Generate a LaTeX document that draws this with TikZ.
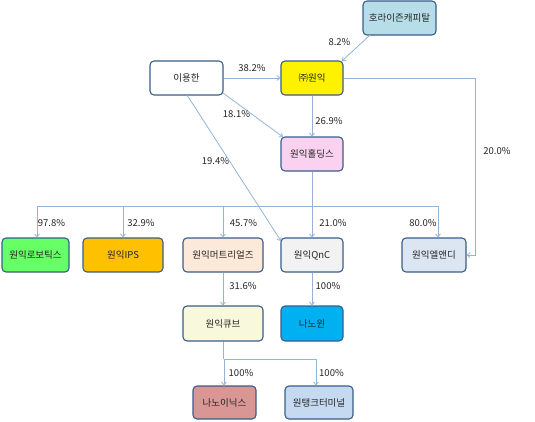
\documentclass[tikz,border=0pt]{standalone}
\usepackage{fontspec}
\setmainfont{Noto Sans CJK KR}
\usetikzlibrary{arrows.meta}
\definecolor{bord}{HTML}{385D8A}
\definecolor{conn}{HTML}{95B3D7}
\definecolor{cHor}{RGB}{183,222,232}
\definecolor{cHold}{RGB}{250,210,240}
\definecolor{cRobo}{RGB}{102,255,102}
\definecolor{cIps}{RGB}{255,192,0}
\definecolor{cMat}{RGB}{253,233,217}
\definecolor{cQnc}{RGB}{242,242,242}
\definecolor{cLnd}{RGB}{220,230,242}
\definecolor{cCube}{RGB}{248,248,220}
\definecolor{cNwin}{RGB}{0,176,240}
\definecolor{cNanoin}{RGB}{218,150,148}
\definecolor{cTank}{RGB}{197,217,241}
\begin{document}
\begin{tikzpicture}[x=1pt,y=-1pt,
  box/.style={draw=bord,line width=1.1pt,rounded corners=4pt,inner sep=0pt,
    minimum height=34pt,font=\fontsize{9.5}{11}\selectfont,text=black!85},
  lnk/.style={draw=conn,line width=0.8pt,-{Straight Barb[length=3pt,width=5pt]}},
  bus/.style={draw=conn,line width=0.8pt},
  pct/.style={font=\fontsize{9.5}{11}\selectfont,inner sep=0pt,text=black!85}]
\useasboundingbox (0,0) rectangle (535,421);
% boxes
\node[box,fill=cHor,minimum width=73pt] (hor) at (399.5,18) {호라이즌캐피탈};
\node[box,fill=yellow,minimum width=62pt] (wonik) at (312,78) {㈜원익};
\node[box,fill=white,minimum width=73pt] (lee) at (186.5,78) {이용한};
\node[box,fill=cHold,minimum width=62pt] (hold) at (312,154) {원익홀딩스};
\node[box,fill=cRobo,minimum width=67pt] (robo) at (35.5,255) {원익로보틱스};
\node[box,fill=cIps,minimum width=80pt] (ips) at (123,255) {원익IPS};
\node[box,fill=cMat,minimum width=80pt] (mat) at (223,255) {원익머트리얼즈};
\node[box,fill=cQnc,minimum width=62pt] (qnc) at (312,255) {원익QnC};
\node[box,fill=cLnd,minimum width=64pt] (lnd) at (434,255) {원익엘앤디};
\node[box,fill=cCube,minimum width=80pt,minimum height=35pt] (cube) at (223,323.5) {원익큐브};
\node[box,fill=cNwin,minimum width=62pt,minimum height=35pt] (nwin) at (312,323.5) {나노윈};
\node[box,fill=cNanoin,minimum width=63pt,minimum height=33pt] (nanoin) at (224.5,402.5) {나노이닉스};
\node[box,fill=cTank,minimum width=68pt,minimum height=33pt] (tank) at (319,402.5) {원탱크터미널};
% coordinates for connectors
\coordinate (horA) at (370,35);
\coordinate (wonikA) at (342,61);
\coordinate (leeB1) at (223,93);
\coordinate (holdTL) at (283,137);
\coordinate (leeB2) at (187,95);
\coordinate (qncL) at (281,241);
\coordinate (c1) at (475,78);
\coordinate (c2) at (475,255);
\coordinate (busL) at (37,206);
\coordinate (busR) at (438,206);
\coordinate (bus2) at (224,359);
\coordinate (bus3) at (316,359);
% connectors
\draw[lnk] (horA) -- (wonikA);
\draw[lnk] (lee.east) -- (wonik.west);
\draw[lnk] (wonik.south) -- (hold.north);
\draw[lnk] (leeB1) -- (holdTL);
\draw[lnk] (leeB2) -- (qncL);
\draw[lnk] (wonik.east) -- (c1) -- (c2) -- (lnd.east);
\draw[lnk] (hold.south) -- (qnc.north);
\draw[bus] (busL) -- (busR);
\draw[lnk] (busL) -- (busL |- robo.north);
\draw[lnk] (busL -| ips.north) -- (ips.north);
\draw[lnk] (busL -| mat.north) -- (mat.north);
\draw[lnk] (busR) -- (busR |- lnd.north);
\draw[lnk] (mat.south) -- (cube.north);
\draw[lnk] (qnc.south) -- (nwin.north);
\draw[bus] (cube.south |- bus2) -- (cube.south);
\draw[bus] (bus2) -- (bus3);
\draw[lnk] (bus2) -- (bus2 |- nanoin.north);
\draw[lnk] (bus3) -- (bus3 |- tank.north);
% labels
\node[pct] (l1) at (339.5,42) {8.2\%};
\node[pct] (l2) at (252,68) {38.2\%};
\node[pct] (l3) at (236.5,114) {18.1\%};
\node[pct] (l4) at (329,121) {26.9\%};
\node[pct] (l5) at (215.5,161) {19.4\%};
\node[pct] (l6) at (497,151) {20.0\%};
\node[pct] (l7) at (51.5,223) {97.8\%};
\node[pct] (l8) at (141,223) {32.9\%};
\node[pct] (l9) at (243.5,223) {45.7\%};
\node[pct] (l10) at (333,223) {21.0\%};
\node[pct] (l11) at (423,223) {80.0\%};
\node[pct] (l12) at (243,286) {31.6\%};
\node[pct] (l13) at (328,286) {100\%};
\node[pct] (l14) at (241,373) {100\%};
\node[pct] (l15) at (331.5,373) {100\%};
\end{tikzpicture}
\end{document}
